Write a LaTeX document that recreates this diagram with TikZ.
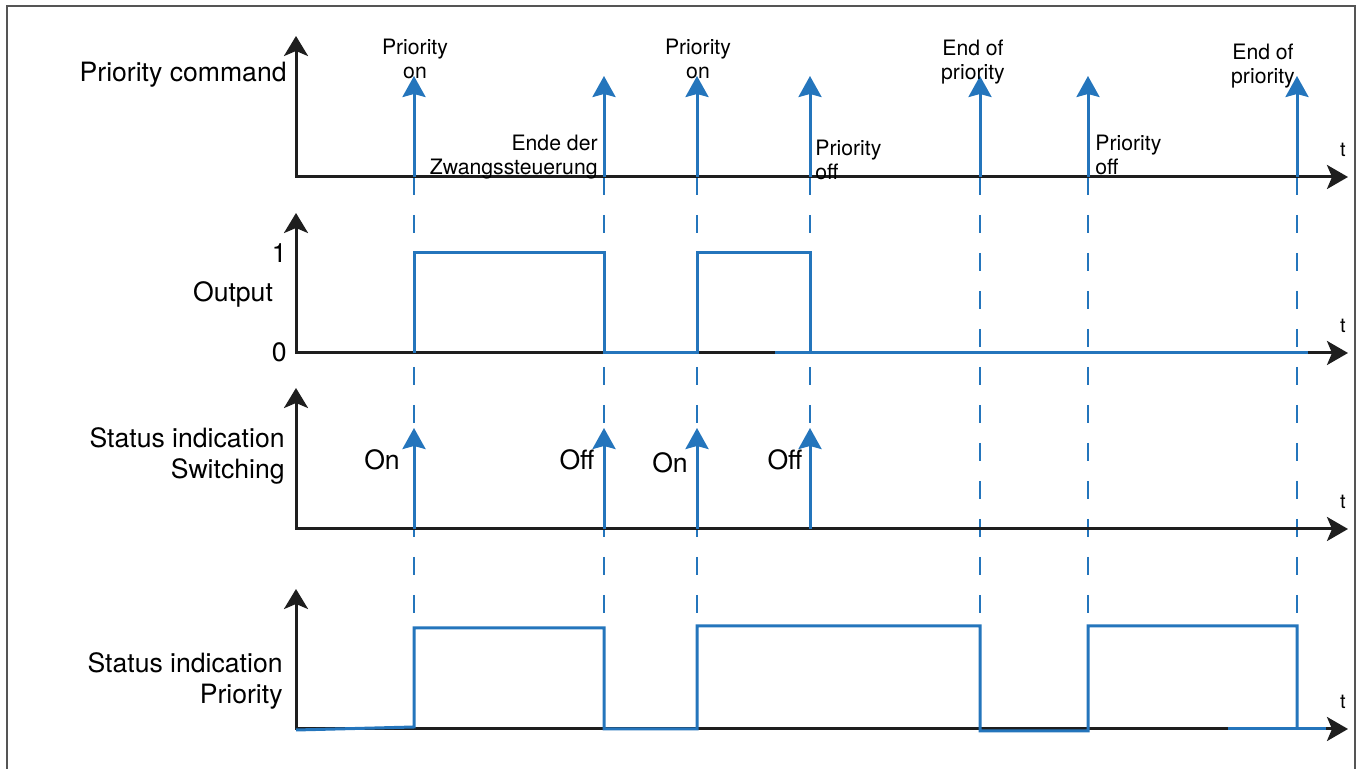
\documentclass[tikz,border=0pt]{standalone}
\usepackage{fontspec}
\setmainfont{TeX Gyre Heros}
\usepackage{xcolor}
\usepackage{tikz}
\usetikzlibrary{arrows.meta}

\definecolor{sigblue}{RGB}{36,117,188}
\definecolor{axk}{RGB}{30,30,30}
\definecolor{frm}{RGB}{85,85,85}

\begin{document}
\begin{tikzpicture}[
  x=0.5pt, y=-0.5pt,
  font=\fontsize{13.3}{15.5}\selectfont,
  ax/.style={{Stealth[length=10pt,width=12pt,inset=2.5pt]}-{Stealth[length=10.5pt,width=12pt,inset=2.5pt]},
    line width=1.5pt, draw=axk},
  evt/.style={-{Stealth[length=10.5pt,width=11.5pt,inset=1.5pt]}, line width=1.5pt, draw=sigblue},
  sig/.style={line width=1.5pt, draw=sigblue},
  dsh/.style={draw=sigblue, line width=1pt, dash pattern=on 9pt off 10pt},
  lbl/.style={inner sep=0pt, align=right},
  sm/.style={inner sep=0pt, font=\fontsize{10.6}{12}\selectfont}
]
\useasboundingbox (0,0) rectangle (1362,769);
\draw[frm, line width=0.8pt] (7,775) -- (7,6) -- (1355,6) -- (1355,775);

% guide lines
\foreach \x in {414,604,697,980,1088,1297}
  \draw[dsh] (\x,177) -- (\x,626);
\draw[dsh] (810,177) -- (810,529);

% axes
\foreach \y/\top in {177/36, 353/213, 529/388, 729/589}{
  \draw[ax] (296,\top) -- (296,\y) -- (1348,\y);
  \node[sm, font=\fontsize{10}{12}\selectfont, anchor=base] (t\y) at (1343,\y-20) {t};
}

% row labels
\node[lbl, anchor=base east] (pc) at (287,82) {Priority command};
\node[lbl, anchor=base east] (one) at (287,263) {1};
\node[lbl, anchor=base] (out) at (233,302) {Output};
\node[lbl, anchor=base east] (zero) at (287,362) {0};
\node[lbl, anchor=base east] (ssw) at (285,479) {Status indication\\Switching};
\node[lbl, anchor=base east] (spr) at (283,704) {Status indication\\Priority};

% priority commands
\foreach \x in {414,604,697,810,980,1088,1297}
  \draw[evt] (\x,177) -- (\x,76);
\node[sm, anchor=base, align=center] (pon1) at (415,79) {Priority\\on};
\node[sm, anchor=base east, align=right] (ende) at (598,175) {Ende der\\Zwangssteuerung};
\node[sm, anchor=base, align=center] (pon2) at (698,79) {Priority\\on};
\node[sm, anchor=base west, align=left] (poff1) at (815,180) {Priority\\off};
\node[sm, anchor=base, align=center] (eop1) at (973,80) {End of\\priority};
\node[sm, anchor=base west, align=left] (poff2) at (1095,175) {Priority\\off};
\node[sm, anchor=base, align=center] (eop2) at (1263,84) {End of\\priority};

% output
\draw[sig] (414,353) -- (414,253) -- (604,253) -- (604,353) -- (697,353)
  -- (697,253) -- (810,253) -- (810,353);
\draw[sig] (775,353) -- (1308,353);

% status switching
\foreach \x in {414,604,697,810}
  \draw[evt] (\x,529) -- (\x,428);
\node[lbl, anchor=base] (on1) at (382,470) {On};
\node[lbl, anchor=base] (off1) at (577,470) {Off};
\node[lbl, anchor=base] (on2) at (670,473) {On};
\node[lbl, anchor=base] (off2) at (785,470) {Off};

% status priority
\draw[sig] (296,730) -- (414,727) -- (414,628) -- (604,628) -- (604,729) -- (697,729)
  -- (697,626) -- (980,626) -- (980,731) -- (1088,731) -- (1088,626) -- (1297,626) -- (1297,729);
\draw[sig] (1228,729) -- (1326,729);
\end{tikzpicture}
\end{document}
